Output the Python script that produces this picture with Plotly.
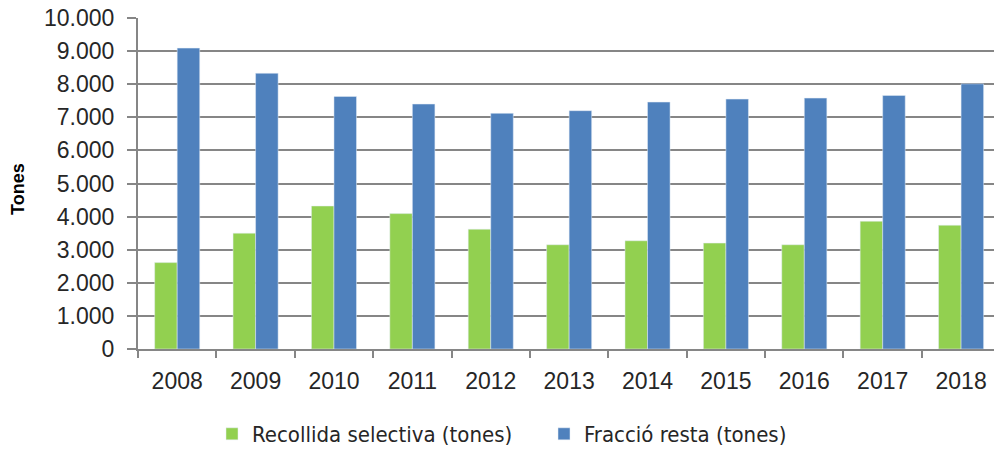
import plotly.graph_objects as go

years = ['2008', '2009', '2010', '2011', '2012', '2013', '2014', '2015', '2016', '2017', '2018']
recollida = [2610, 3500, 4320, 4090, 3620, 3150, 3270, 3200, 3150, 3860, 3740]
resta = [9090, 8330, 7630, 7400, 7120, 7200, 7460, 7550, 7580, 7660, 8010]

tick_font = {'family': 'Liberation Sans, Arial, sans-serif', 'size': 23, 'color': '#262626'}

fig = go.Figure(
    data=[
        go.Bar(x=years, y=recollida, name='Recollida selectiva (tones)',
               marker={'color': '#92D050'}),
        go.Bar(x=years, y=resta, name='Fracció resta (tones)',
               marker={'color': '#4F81BD'}),
    ],
    layout=go.Layout(
        width=994,
        height=451,
        separators=',.',
        barmode='group',
        bargap=0.425,
        bargroupgap=0,
        plot_bgcolor='white',
        paper_bgcolor='white',
        margin=go.layout.Margin(l=138, r=0, t=18, b=102),
        font={'family': 'Liberation Sans, Arial, sans-serif', 'size': 17, 'color': '#262626'},
        xaxis={
            'type': 'category',
            # the original chart runs a little past the right edge
            'range': [-0.5, 10.42],
            'automargin': False,
            'showline': True,
            'linecolor': '#868686',
            'linewidth': 2,
            'ticks': 'outside',
            'tickson': 'boundaries',
            'ticklen': 7,
            'tickwidth': 2,
            'tickcolor': '#868686',
            'tickfont': tick_font,
            'ticklabelstandoff': 10,
            'showgrid': False,
        },
        yaxis={
            'range': [0, 10000],
            'dtick': 1000,
            'tickformat': ',d',
            'automargin': False,
            'showline': True,
            'linecolor': '#868686',
            'linewidth': 2,
            'ticks': 'outside',
            'ticklen': 9,
            'tickwidth': 2,
            'tickcolor': '#868686',
            'gridcolor': '#868686',
            'gridwidth': 2,
            'zeroline': False,
            'tickfont': tick_font,
            'ticklabelstandoff': 8,
        },
        annotations=[{
            'text': '<b>Tones</b>',
            'xref': 'paper', 'yref': 'paper',
            'x': (18 - 138) / 856, 'y': 1 - (189 - 18) / 331,
            'xanchor': 'center', 'yanchor': 'middle',
            'textangle': -90,
            'showarrow': False,
            'font': {'family': 'Liberation Sans, Arial, sans-serif', 'size': 18, 'color': '#000000'},
        }],
        legend={
            'orientation': 'h',
            'x': (212 - 138) / 856,
            'xanchor': 'left',
            'yref': 'container',
            'y': 1 - 434 / 451,
            'yanchor': 'middle',
            'entrywidth': 287,
            'font': {'family': 'DejaVu Sans Condensed, DejaVu Sans, sans-serif', 'size': 22, 'color': '#262626'},
            'traceorder': 'normal',
        },
    ),
)

# drop the default body margin so the 994x451 figure fills the window exactly
fig.write_html("out.html", config={'displayModeBar': False},
               post_script="document.body.style.margin='0';")
